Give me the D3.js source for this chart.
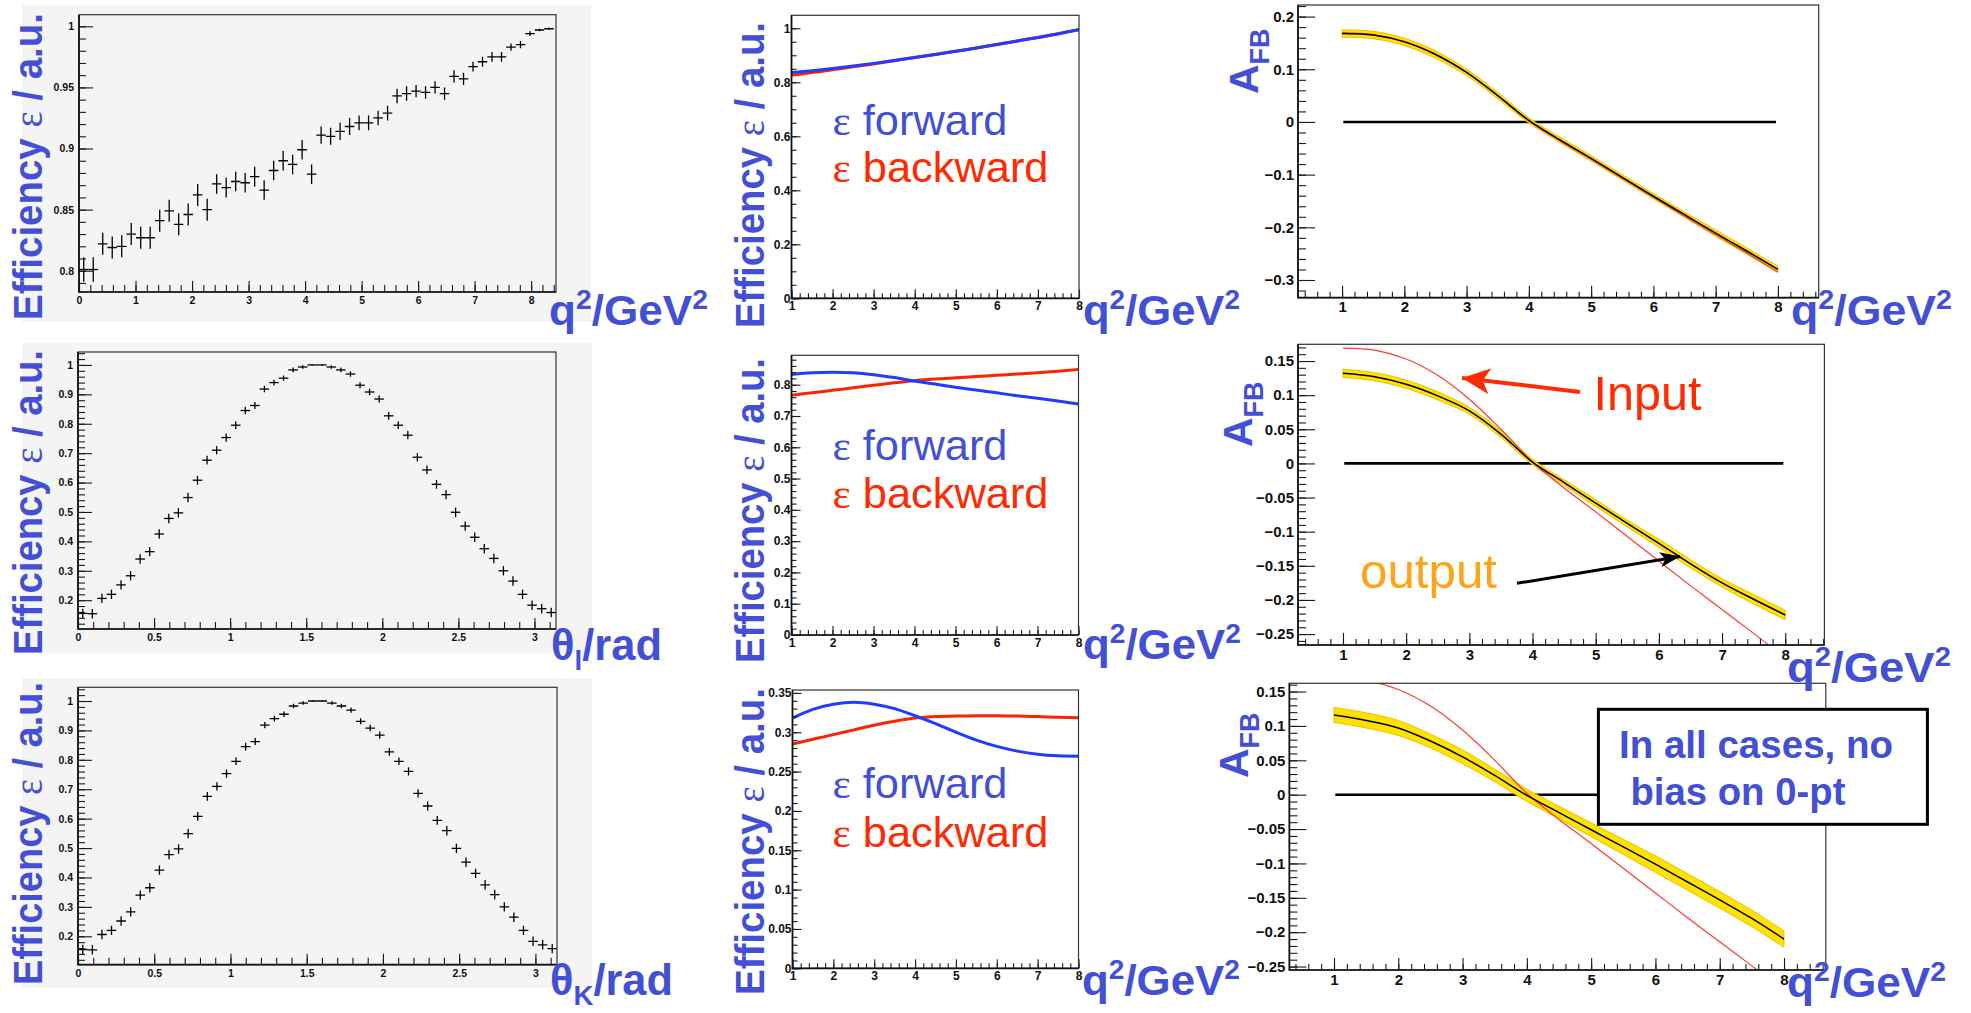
<!DOCTYPE html>
<html>
<head>
<meta charset="utf-8">
<script src="https://cdn.jsdelivr.net/npm/d3@7"></script>
<style>
  body { margin: 0; background: #fff; }
  svg { display: block; }
</style>
</head>
<body>
<script>
// ---------------- data ----------------
// Efficiency vs q^2 : 50 bins over [0, 8.4]
const q2BinRange = [0, 8.4];
const effQ2 = [0.801, 0.801, 0.822, 0.819, 0.820, 0.830, 0.827, 0.827, 0.841, 0.849,
               0.838, 0.846, 0.862, 0.850, 0.871, 0.868, 0.873, 0.872, 0.877, 0.866,
               0.882, 0.890, 0.887, 0.899, 0.879, 0.911, 0.910, 0.914, 0.918, 0.921,
               0.921, 0.925, 0.929, 0.943, 0.945, 0.947, 0.946, 0.950, 0.945, 0.959,
               0.957, 0.967, 0.971, 0.975, 0.975, 0.983, 0.985, 0.994, 0.997, 0.998];
const effQ2Err = [0.010, 0.010, 0.009, 0.009, 0.009, 0.009, 0.009, 0.009, 0.009, 0.009,
                  0.009, 0.009, 0.009, 0.009, 0.008, 0.008, 0.008, 0.008, 0.008, 0.008,
                  0.008, 0.008, 0.008, 0.008, 0.008, 0.007, 0.007, 0.007, 0.007, 0.006,
                  0.006, 0.006, 0.006, 0.006, 0.006, 0.005, 0.005, 0.005, 0.005, 0.005,
                  0.005, 0.004, 0.004, 0.004, 0.004, 0.003, 0.003, 0.002, 0.001, 0.001];

// Efficiency vs theta_l and theta_K : 50 bins over [0, pi]
const thetaBinRange = [0, Math.PI];
const effThetaL = [0.155, 0.154, 0.206, 0.220, 0.252, 0.283, 0.340, 0.365, 0.425, 0.478,
                   0.497, 0.549, 0.608, 0.676, 0.710, 0.753, 0.795, 0.845, 0.862, 0.918,
                   0.940, 0.955, 0.983, 0.993, 1.000, 1.000, 0.993, 0.983, 0.969, 0.931,
                   0.908, 0.884, 0.827, 0.795, 0.761, 0.686, 0.643, 0.594, 0.559, 0.499,
                   0.452, 0.414, 0.375, 0.342, 0.300, 0.265, 0.220, 0.183, 0.171, 0.158];
const effThetaK = [0.155, 0.154, 0.206, 0.220, 0.252, 0.283, 0.340, 0.365, 0.425, 0.478,
                   0.497, 0.549, 0.608, 0.676, 0.710, 0.753, 0.795, 0.845, 0.862, 0.918,
                   0.940, 0.955, 0.983, 0.993, 1.000, 1.000, 0.993, 0.983, 0.969, 0.931,
                   0.908, 0.884, 0.827, 0.795, 0.761, 0.686, 0.643, 0.594, 0.559, 0.499,
                   0.452, 0.414, 0.375, 0.342, 0.300, 0.265, 0.220, 0.183, 0.171, 0.158];
const effThetaErr = [0.016, 0.016, 0.016, 0.016, 0.016, 0.016, 0.016, 0.016, 0.016, 0.016,
                     0.016, 0.016, 0.015, 0.015, 0.014, 0.014, 0.013, 0.013, 0.012, 0.011,
                     0.010, 0.009, 0.008, 0.006, 0.002, 0.002, 0.006, 0.008, 0.009, 0.010,
                     0.011, 0.012, 0.013, 0.013, 0.014, 0.014, 0.015, 0.015, 0.016, 0.016,
                     0.016, 0.016, 0.016, 0.016, 0.016, 0.016, 0.016, 0.016, 0.016, 0.016];

// Forward / backward efficiencies sampled in q^2
const q2Grid = [1, 1.5, 2, 2.5, 3, 3.5, 4, 4.5, 5, 5.5, 6, 6.5, 7, 7.5, 8];
const effFwdQ2     = [0.836, 0.843, 0.851, 0.860, 0.870, 0.881, 0.892, 0.903, 0.915, 0.927, 0.940, 0.953, 0.966, 0.980, 0.995];
const effBwdQ2     = [0.826, 0.836, 0.846, 0.857, 0.868, 0.880, 0.892, 0.903, 0.915, 0.927, 0.940, 0.953, 0.966, 0.980, 0.996];
const effFwdThetaL = [0.833, 0.838, 0.840, 0.838, 0.832, 0.823, 0.812, 0.802, 0.792, 0.783, 0.774, 0.765, 0.757, 0.748, 0.738];
const effBwdThetaL = [0.766, 0.774, 0.782, 0.790, 0.798, 0.806, 0.813, 0.818, 0.822, 0.826, 0.830, 0.834, 0.838, 0.843, 0.849];
const effFwdThetaK = [0.318, 0.329, 0.3355, 0.338, 0.3355, 0.330, 0.321, 0.311, 0.300, 0.290, 0.282, 0.276, 0.272, 0.270, 0.2695];
const effBwdThetaK = [0.285, 0.291, 0.297, 0.303, 0.309, 0.314, 0.318, 0.320, 0.3205, 0.321, 0.321, 0.3205, 0.320, 0.319, 0.3185];

// Forward-backward asymmetry: generated input and fitted output with error band
const afbInput     = [0.169, 0.166, 0.153, 0.129, 0.094, 0.050, 0.002, -0.036, -0.071, -0.107, -0.143, -0.179, -0.214, -0.249, -0.285];
const afbOutQ2     = [0.168, 0.165, 0.152, 0.128, 0.094, 0.050, 0.003, -0.034, -0.069, -0.105, -0.141, -0.176, -0.211, -0.245, -0.280];
const afbErrQ2     = [0.007, 0.007, 0.007, 0.007, 0.006, 0.006, 0.005, 0.005, 0.005, 0.005, 0.005, 0.005, 0.006, 0.006, 0.006];
const afbOutThetaL = [0.132, 0.127, 0.116, 0.099, 0.077, 0.043, 0.002, -0.028, -0.058, -0.088, -0.117, -0.147, -0.175, -0.199, -0.222];
const afbErrThetaL = [0.006, 0.006, 0.006, 0.006, 0.005, 0.005, 0.004, 0.004, 0.005, 0.005, 0.006, 0.006, 0.006, 0.007, 0.007];
const afbOutThetaK = [0.116, 0.108, 0.097, 0.078, 0.055, 0.028, -0.001, -0.026, -0.051, -0.076, -0.101, -0.127, -0.153, -0.180, -0.210];
const afbErrThetaK = [0.011, 0.011, 0.011, 0.010, 0.010, 0.009, 0.009, 0.009, 0.010, 0.011, 0.012, 0.012, 0.012, 0.012, 0.012];
const zeroLineRange = [1.02, 7.97];

// Tick labels
const ticksQ2Hist   = [0, 1, 2, 3, 4, 5, 6, 7, 8];
const ticksEffQ2    = [0.8, 0.85, 0.9, 0.95, 1];
const ticksTheta    = [0, 0.5, 1, 1.5, 2, 2.5, 3];
const ticksEffTheta = [0.2, 0.3, 0.4, 0.5, 0.6, 0.7, 0.8, 0.9, 1];
const ticksQ2       = [1, 2, 3, 4, 5, 6, 7, 8];
const ticksFB1      = [0, 0.2, 0.4, 0.6, 0.8, 1];
const ticksFB2      = [0, 0.1, 0.2, 0.3, 0.4, 0.5, 0.6, 0.7, 0.8];
const ticksFB3      = [0, 0.05, 0.1, 0.15, 0.2, 0.25, 0.3, 0.35];
const ticksAfb1     = [-0.3, -0.2, -0.1, 0, 0.1, 0.2];
const ticksAfb2     = [-0.25, -0.2, -0.15, -0.1, -0.05, 0, 0.05, 0.1, 0.15];

// ---------------- drawing ----------------
const BLUE = "#4350d6", TXT_RED = "#ff2a00", ORANGE = "#ffa31a";
const LINE_BLUE = "#1f3cff", LINE_RED = "#ff2200", INPUT_RED = "#ff3b2f";
const SANS = "Liberation Sans, Arial, Helvetica, sans-serif";
const SERIF = "Liberation Serif, Times New Roman, serif";
const smooth = d3.curveCatmullRom.alpha(0.5);

const svg = d3.select("body").append("svg").attr("width", 1971).attr("height", 1013)
  .attr("font-family", SANS);

const fmt = v => {
  const s = String(+v.toFixed(4));
  return v < 0 ? "\u2212" + s.slice(1) : s;
};

function minorValues(domain, step) {
  const lo = Math.min(...domain), hi = Math.max(...domain);
  const i0 = Math.ceil(lo / step - 1e-6), i1 = Math.floor(hi / step + 1e-6);
  return d3.range(i0, i1 + 1).map(i => +(i * step).toFixed(6));
}

const STYLE = {
  c1: { font: 10.5, yMaj: 14, yMin: 7, xMaj: 11, xMin: 7, yPad: 5, xPad: 5 },
  c2: { font: 12, yMaj: 9, yMin: 5, xMaj: 9, xMin: 5, yPad: 1, xPad: 3 },
  c3: { font: 15, yMaj: 17, yMin: 8, xMaj: 12, xMin: 6, yPad: 4, xPad: 4 }
};

function setupPanel(p) {
  const x = d3.scaleLinear().domain(p.xDomain).range([p.left, p.right]);
  const y = d3.scaleLinear().domain(p.yDomain).range([p.bottom, p.top]);
  if (p.canvas) {
    svg.append("rect")
      .attr("x", p.canvas[0]).attr("y", p.canvas[1])
      .attr("width", p.canvas[2] - p.canvas[0]).attr("height", p.canvas[3] - p.canvas[1])
      .attr("fill", "#f4f4f4");
  }
  svg.append("rect")
    .attr("x", p.left).attr("y", p.top)
    .attr("width", p.right - p.left).attr("height", p.bottom - p.top)
    .attr("fill", p.canvas ? "#f4f4f4" : "#fff");
  const clipId = "clip-" + p.id;
  svg.append("clipPath").attr("id", clipId).append("rect")
    .attr("x", p.left).attr("y", p.top)
    .attr("width", p.right - p.left).attr("height", p.bottom - p.top);
  const plot = svg.append("g").attr("clip-path", `url(#${clipId})`);
  return { x, y, plot };
}

function drawAxes(p, x, y) {
  const s = STYLE[p.style];
  const ax = svg.append("g").attr("color", "#1a1a1a");
  const styleText = g => g.selectAll("text")
    .attr("font-size", s.font).attr("font-family", SANS)
    .attr("font-weight", "bold").attr("fill", "#111");
  // y axis: minor then major ticks, pointing into the frame
  ax.append("g").attr("transform", `translate(${p.left},0)`)
    .call(d3.axisLeft(y).tickValues(minorValues(p.yDomain, p.yMinor)).tickSize(-s.yMin).tickFormat(""))
    .call(g => g.select(".domain").remove());
  ax.append("g").attr("transform", `translate(${p.left},0)`)
    .call(d3.axisLeft(y).tickValues(p.yTicks).tickSize(-s.yMaj).tickPadding(s.yPad).tickFormat(fmt))
    .call(g => g.select(".domain").remove())
    .call(styleText);
  // x axis
  ax.append("g").attr("transform", `translate(0,${p.bottom})`)
    .call(d3.axisBottom(x).tickValues(minorValues(p.xDomain, p.xMinor)).tickSize(-s.xMin).tickFormat(""))
    .call(g => g.select(".domain").remove());
  ax.append("g").attr("transform", `translate(0,${p.bottom})`)
    .call(d3.axisBottom(x).tickValues(p.xTicks).tickSize(-s.xMaj).tickPadding(s.xPad).tickFormat(fmt))
    .call(g => g.select(".domain").remove())
    .call(styleText);
  ax.selectAll(".tick line").attr("stroke-width", 1.1);
  // frame
  svg.append("rect")
    .attr("x", p.left).attr("y", p.top)
    .attr("width", p.right - p.left).attr("height", p.bottom - p.top)
    .attr("fill", "none").attr("stroke", "#333").attr("stroke-width", 1.2);
  svg.append("path")
    .attr("d", `M${p.left},${p.top}V${p.bottom}H${p.right}`)
    .attr("fill", "none").attr("stroke", "#111").attr("stroke-width", 1.7);
}

// ---- histogram panels (left column) ----
function histPanel(p, range, values, errors) {
  const { x, y, plot } = setupPanel(p);
  const n = values.length, w = (range[1] - range[0]) / n;
  const bins = values.map((v, i) => ({ c: range[0] + (i + 0.5) * w, v, e: errors[i] }));
  const g = plot.append("g").attr("stroke", "#000").attr("stroke-width", 1.3);
  g.selectAll("line.h").data(bins).join("line").attr("class", "h")
    .attr("x1", d => x(d.c - w / 2)).attr("x2", d => x(d.c + w / 2))
    .attr("y1", d => y(d.v)).attr("y2", d => y(d.v));
  g.selectAll("line.v").data(bins).join("line").attr("class", "v")
    .attr("x1", d => x(d.c)).attr("x2", d => x(d.c))
    .attr("y1", d => y(d.v - d.e)).attr("y2", d => y(d.v + d.e));
  drawAxes(p, x, y);
}

// ---- forward / backward efficiency panels (middle column) ----
function fbPanel(p, fwd, bwd) {
  const { x, y, plot } = setupPanel(p);
  const line = vals => d3.line().curve(smooth)
    .x((d, i) => x(q2Grid[i])).y(d => y(d))(vals);
  plot.append("path").attr("d", line(bwd)).attr("fill", "none")
    .attr("stroke", LINE_RED).attr("stroke-width", 3);
  plot.append("path").attr("d", line(fwd)).attr("fill", "none")
    .attr("stroke", LINE_BLUE).attr("stroke-width", 3);
  drawAxes(p, x, y);
}

// ---- A_FB panels (right column) ----
function afbPanel(p, out, err) {
  const { x, y, plot } = setupPanel(p);
  plot.append("line")
    .attr("x1", x(zeroLineRange[0])).attr("x2", x(zeroLineRange[1]))
    .attr("y1", y(0)).attr("y2", y(0))
    .attr("stroke", "#000").attr("stroke-width", 2.6);
  const band = d3.area().curve(smooth)
    .x((d, i) => x(q2Grid[i]))
    .y0((d, i) => y(d - err[i])).y1((d, i) => y(d + err[i]));
  plot.append("path").attr("d", band(out))
    .attr("fill", "#ffe200").attr("stroke", "#efbd00").attr("stroke-width", 1);
  const line = d3.line().curve(smooth).x((d, i) => x(q2Grid[i])).y(d => y(d));
  plot.append("path").attr("d", line(afbInput)).attr("fill", "none")
    .attr("stroke", INPUT_RED).attr("stroke-width", 1.2);
  plot.append("path").attr("d", line(out)).attr("fill", "none")
    .attr("stroke", "#000").attr("stroke-width", 1.5);
  drawAxes(p, x, y);
}

// Panel layout
histPanel({ id: "p1", style: "c1", left: 79, right: 556, top: 14.7, bottom: 292,
            xDomain: [0, 8.44], yDomain: [0.7826, 1.0095],
            xTicks: ticksQ2Hist, xMinor: 0.2, yTicks: ticksEffQ2, yMinor: 0.01,
            canvas: [22, 5, 591, 322] }, q2BinRange, effQ2, effQ2Err);
histPanel({ id: "p4", style: "c1", left: 78, right: 556, top: 352, bottom: 629,
            xDomain: [0, Math.PI], yDomain: [0.102, 1.044],
            xTicks: ticksTheta, xMinor: 0.1, yTicks: ticksEffTheta, yMinor: 0.02,
            canvas: [22, 343, 592, 653] }, thetaBinRange, effThetaL, effThetaErr);
histPanel({ id: "p7", style: "c1", left: 78, right: 557, top: 687.3, bottom: 964.7,
            xDomain: [0, Math.PI], yDomain: [0.1034, 1.0466],
            xTicks: ticksTheta, xMinor: 0.1, yTicks: ticksEffTheta, yMinor: 0.02,
            canvas: [22, 678, 592, 988] }, thetaBinRange, effThetaK, effThetaErr);

fbPanel({ id: "p2", style: "c2", left: 791.5, right: 1079, top: 15.3, bottom: 298.3,
          xDomain: [1, 8], yDomain: [0, 1.048],
          xTicks: ticksQ2, xMinor: 0.2, yTicks: ticksFB1, yMinor: 0.05 }, effFwdQ2, effBwdQ2);
fbPanel({ id: "p5", style: "c2", left: 791.5, right: 1078.5, top: 355.3, bottom: 635,
          xDomain: [1, 8], yDomain: [0, 0.894],
          xTicks: ticksQ2, xMinor: 0.2, yTicks: ticksFB2, yMinor: 0.02 }, effFwdThetaL, effBwdThetaL);
fbPanel({ id: "p8", style: "c2", left: 792.5, right: 1078.5, top: 690, bottom: 968.3,
          xDomain: [1, 8], yDomain: [0, 0.3537],
          xTicks: ticksQ2, xMinor: 0.2, yTicks: ticksFB3, yMinor: 0.01 }, effFwdThetaK, effBwdThetaK);

afbPanel({ id: "p3", style: "c3", left: 1298, right: 1818.7, top: 5, bottom: 297.7,
           xDomain: [0.292, 8.655], yDomain: [-0.3336, 0.222],
           xTicks: ticksQ2, xMinor: 0.2, yTicks: ticksAfb1, yMinor: 0.02 }, afbOutQ2, afbErrQ2);
afbPanel({ id: "p6", style: "c3", left: 1298, right: 1824.4, top: 344.3, bottom: 645,
           xDomain: [0.288, 8.62], yDomain: [-0.266, 0.1745],
           xTicks: ticksQ2, xMinor: 0.2, yTicks: ticksAfb2, yMinor: 0.01 }, afbOutThetaL, afbErrThetaL);
afbPanel({ id: "p9", style: "c3", left: 1289.4, right: 1825.8, top: 683.3, bottom: 970,
           xDomain: [0.306, 8.65], yDomain: [-0.255, 0.162],
           xTicks: ticksQ2, xMinor: 0.2, yTicks: ticksAfb2, yMinor: 0.01 }, afbOutThetaK, afbErrThetaK);

// ---------------- axis titles ----------------
function effTitle(bx, yStart, yEnd) {
  const t = svg.append("text")
    .attr("transform", `translate(${bx},${yStart}) rotate(-90)`)
    .attr("font-size", 41).attr("font-weight", "bold").attr("fill", BLUE)
    .attr("textLength", yStart - yEnd).attr("lengthAdjust", "spacingAndGlyphs");
  t.append("tspan").text("Efficiency ");
  t.append("tspan").attr("font-family", SERIF).attr("font-weight", "normal").text("\u03b5");
  t.append("tspan").text(" / a.u.");
}
effTitle(42, 320, 13);
effTitle(42, 655, 350);
effTitle(42, 985, 682);
effTitle(763.5, 328, 22);
effTitle(763.5, 663, 358);
effTitle(763.5, 995, 688);

function afbTitle(bx, yStart) {
  const t = svg.append("text")
    .attr("transform", `translate(${bx},${yStart}) rotate(-90)`)
    .attr("font-weight", "bold").attr("fill", BLUE);
  t.append("tspan").attr("font-size", 41).text("A");
  t.append("tspan").attr("font-size", 27).attr("dy", 11).text("FB");
}
afbTitle(1258, 94);
afbTitle(1252, 447);
afbTitle(1248, 778);

function q2Title(x0, yb, width) {
  const t = svg.append("text").attr("x", x0).attr("y", yb)
    .attr("font-size", 42).attr("font-weight", "bold").attr("fill", BLUE)
    .attr("textLength", width).attr("lengthAdjust", "spacingAndGlyphs");
  t.append("tspan").text("q");
  t.append("tspan").attr("dy", -16).attr("font-size", 27).text("2");
  t.append("tspan").attr("dy", 16).text("/GeV");
  t.append("tspan").attr("dy", -16).attr("font-size", 27).text("2");
}
q2Title(549, 325, 159);
q2Title(1083, 325, 157);
q2Title(1791, 325, 161);
q2Title(1083, 659, 158);
q2Title(1787, 682, 164);
q2Title(1082, 995, 158);
q2Title(1787, 997, 159);

function thetaTitle(x0, yb, width, sub) {
  const t = svg.append("text").attr("x", x0).attr("y", yb)
    .attr("font-size", 44).attr("font-weight", "bold").attr("fill", BLUE)
    .attr("textLength", width).attr("lengthAdjust", "spacingAndGlyphs");
  t.append("tspan").text("\u03b8");
  t.append("tspan").attr("dy", 10).attr("font-size", 28).text(sub);
  t.append("tspan").attr("dy", -10).text("/rad");
}
thetaTitle(551, 660, 111, "l");
thetaTitle(550, 995, 123, "K");

// ---------------- legends ----------------
function legendEntry(x0, yb, label, color, width) {
  const t = svg.append("text").attr("x", x0).attr("y", yb)
    .attr("font-size", 43).attr("fill", color)
    .attr("textLength", width).attr("lengthAdjust", "spacingAndGlyphs");
  t.append("tspan").attr("font-family", SERIF).text("\u03b5");
  t.append("tspan").text(" " + label);
}
[[135, 181.7], [460, 507.7], [798.3, 846.7]].forEach(([yf, yb]) => {
  legendEntry(832.5, yf, "forward", BLUE, 175);
  legendEntry(832.5, yb, "backward", TXT_RED, 216);
});

// ---------------- annotations ----------------
const defs = svg.append("defs");
function arrowHead(id, color, len, wid) {
  defs.append("marker").attr("id", id)
    .attr("viewBox", `0 0 ${len} ${wid}`).attr("refX", len).attr("refY", wid / 2)
    .attr("markerWidth", len).attr("markerHeight", wid)
    .attr("markerUnits", "userSpaceOnUse").attr("orient", "auto")
    .append("path").attr("d", `M0,0L${len},${wid / 2}L0,${wid}L${len * 0.25},${wid / 2}Z`).attr("fill", color);
}
arrowHead("head-red", TXT_RED, 28, 26);
arrowHead("head-black", "#000", 20, 15);

svg.append("line").attr("x1", 1580).attr("y1", 392).attr("x2", 1462).attr("y2", 378)
  .attr("stroke", TXT_RED).attr("stroke-width", 4).attr("marker-end", "url(#head-red)");
svg.append("text").attr("x", 1593.6).attr("y", 410).attr("font-size", 49)
  .attr("fill", TXT_RED).attr("textLength", 108).attr("lengthAdjust", "spacingAndGlyphs").text("Input");

svg.append("line").attr("x1", 1517).attr("y1", 583.3).attr("x2", 1680).attr("y2", 556.5)
  .attr("stroke", "#000").attr("stroke-width", 3).attr("marker-end", "url(#head-black)");
svg.append("text").attr("x", 1360).attr("y", 588).attr("font-size", 48)
  .attr("fill", ORANGE).attr("textLength", 137).attr("lengthAdjust", "spacingAndGlyphs").text("output");

svg.append("rect").attr("x", 1598.4).attr("y", 709.3).attr("width", 329).attr("height", 115)
  .attr("fill", "#fff").attr("stroke", "#000").attr("stroke-width", 3);
svg.append("text").attr("x", 1619).attr("y", 758.3).attr("font-size", 38).attr("font-weight", "bold")
  .attr("fill", BLUE).attr("textLength", 274).attr("lengthAdjust", "spacingAndGlyphs")
  .text("In all cases, no");
svg.append("text").attr("x", 1630.4).attr("y", 805).attr("font-size", 38).attr("font-weight", "bold")
  .attr("fill", BLUE).attr("textLength", 215).attr("lengthAdjust", "spacingAndGlyphs")
  .text("bias on 0-pt");
</script>
</body>
</html>
